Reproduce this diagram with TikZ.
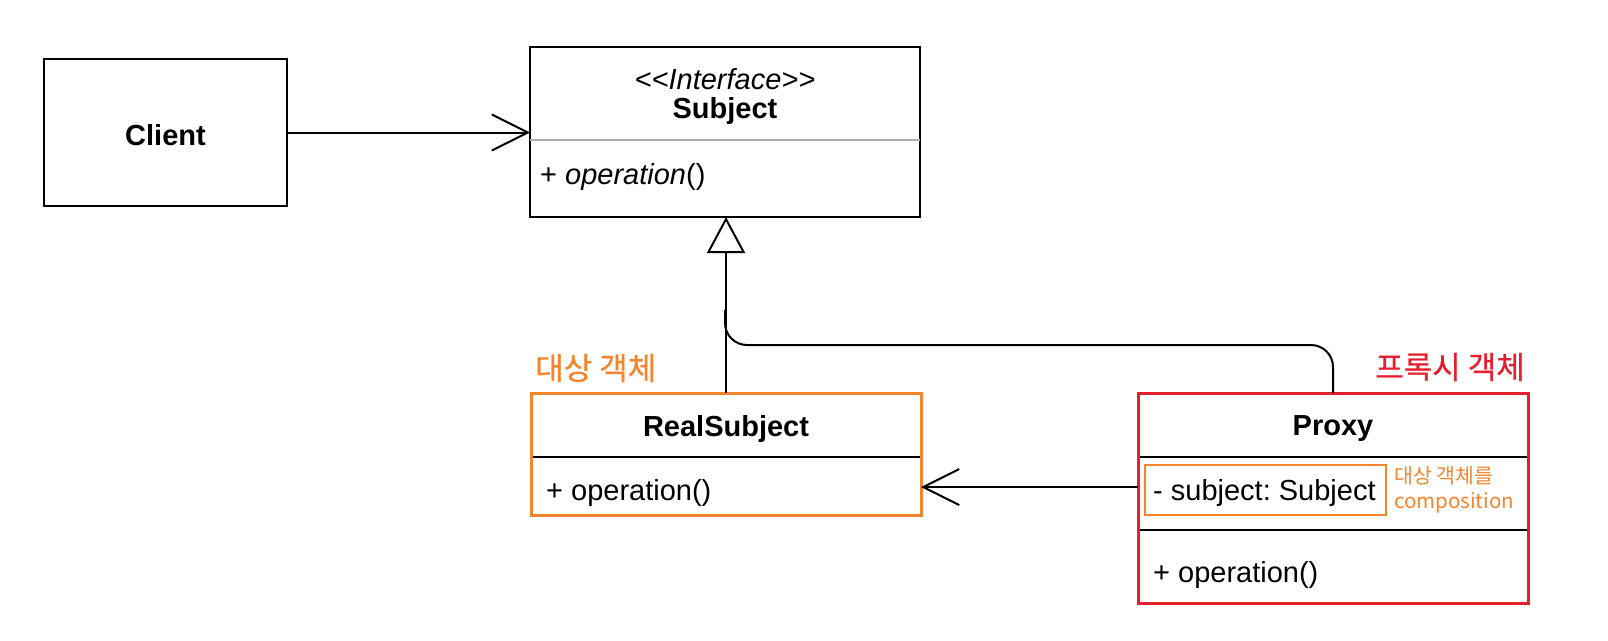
\documentclass[tikz,border=0pt]{standalone}
\usepackage{fontspec}
\setmainfont{Liberation Sans}
\newfontfamily\kr{Noto Sans CJK KR}[FakeBold=0.6]
\newfontfamily\krthin{Noto Sans CJK KR}
\usetikzlibrary{arrows.meta}
\definecolor{umlorange}{HTML}{F5842C}
\definecolor{umlred}{HTML}{E5202E}
\definecolor{sepgray}{HTML}{AEAEAE}
\frenchspacing
\begin{document}
\begin{tikzpicture}[x=1pt,y=-1pt,
  umlbox/.style={draw=black, line width=2pt, inner sep=0pt, outer sep=0pt, anchor=north west, fill=white},
  txt/.style={inner sep=0pt, font=\fontsize{29}{34}\selectfont},
  conn/.style={draw=black, line width=2pt},
  sep/.style={draw=black, line width=2pt},
  krbig/.style={inner sep=0pt, anchor=west, font=\kr\fontsize{31}{36}\selectfont},
  krsmall/.style={inner sep=0pt, anchor=west, align=left, text=umlorange, font=\krthin\fontsize{20.5}{25}\selectfont}]
\useasboundingbox (0,0) rectangle (1608,640);
% boxes
\node[umlbox, minimum width=243pt, minimum height=147pt] (client) at (44,59) {};
\node[umlbox, minimum width=390pt, minimum height=170pt] (subject) at (530,47) {};
\node[umlbox, draw=umlorange, line width=3pt, minimum width=390pt, minimum height=122pt] (real) at (531,393) {};
\node[umlbox, draw=umlred, line width=3pt, minimum width=390pt, minimum height=210pt] (proxy) at (1138,393) {};
% separators
\draw[sepgray, line width=1.2pt] (subject.west |- 0,140) -- (subject.east |- 0,140);
\draw[sep] ([xshift=1.5pt]real.west |- 0,457) -- ([xshift=-1.5pt]real.east |- 0,457);
\draw[sep] ([xshift=1.5pt]proxy.west |- 0,457) -- ([xshift=-1.5pt]proxy.east |- 0,457);
\draw[sep] ([xshift=1.5pt]proxy.west |- 0,530) -- ([xshift=-1.5pt]proxy.east |- 0,530);
\node[umlbox, draw=umlorange, line width=2.5pt, fill=none, minimum width=241pt, minimum height=50pt] (attrbox) at (1145,465) {};
% texts
\node[txt, font=\bfseries\fontsize{29}{34}\selectfont] (clientname) at ([yshift=-3pt]client.center) {Client};
\node[txt, font=\itshape\fontsize{29}{34}\selectfont] (stereo) at (725,79) {<\kern0pt<Interface>\kern0pt>};
\node[txt, font=\bfseries\fontsize{29}{34}\selectfont] (subjname) at (725,111) {Subject};
\node[txt, anchor=west] (subjop) at (540,177) {+ \textit{operation}()};
\node[txt, font=\bfseries\fontsize{29}{34}\selectfont] (realname) at (726,429) {RealSubject};
\node[txt, anchor=west] (realop) at (546,493) {+ operation()};
\node[txt, font=\bfseries\fontsize{29}{34}\selectfont] (proxyname) at (1333,429) {Proxy};
\node[txt, anchor=west] (proxyattr) at (1153,493) {- subject: Subject};
\node[txt, anchor=west] (proxyop) at (1153,575) {+ operation()};
\node[krbig, text=umlorange] (reallabel) at (535,368) {대상 객체};
\node[krbig, text=umlred] (proxylabel) at (1375,367) {프록시 객체};
\node[krsmall] (note) at (1394,490) {대상 객체를\\composition};
% connectors
\coordinate (ay) at (0,487);
\draw[conn, -{Straight Barb[length=36pt,width=36pt]}] (client.east) -- (client.east -| subject.west);
\draw[conn, -{Triangle[open, fill=white, length=36pt, width=38pt]}] (real.north) -- (real.north |- subject.south);
\draw[conn, rounded corners=22pt] (proxy.north) |- (725,345) -- (725,310);
\draw[conn, -{Straight Barb[length=36pt,width=36pt]}] (proxy.west |- ay) -- (real.east |- ay);
\end{tikzpicture}
\end{document}
